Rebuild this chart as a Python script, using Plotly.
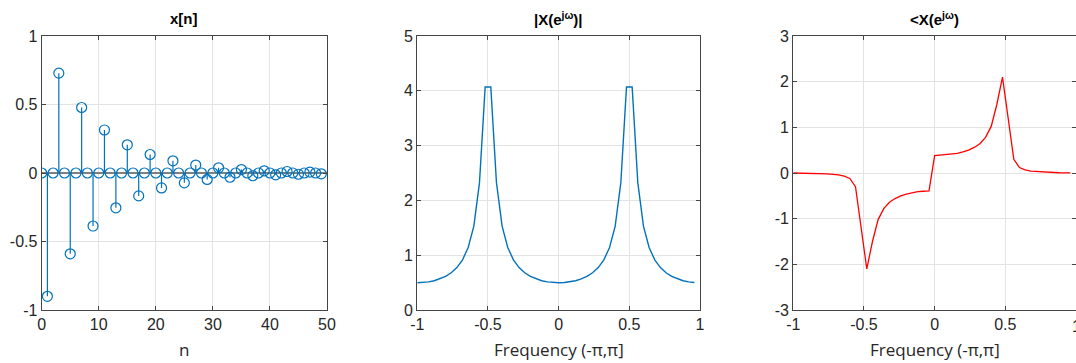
import plotly.graph_objects as go

# ---------------- data ----------------
n_idx = list(range(50))
x_vals = [0, -0.9, 0, 0.729, 0, -0.590, 0, 0.478, 0, -0.387,
          0, 0.314, 0, -0.254, 0, 0.206, 0, -0.167, 0, 0.135,
          0, -0.109, 0, 0.089, 0, -0.072, 0, 0.058, 0, -0.047,
          0, 0.038, 0, -0.031, 0, 0.025, 0, -0.020, 0, 0.016,
          0, -0.013, 0, 0.011, 0, -0.009, 0, 0.007, 0, -0.006]

freq = [-1.00, -0.96, -0.92, -0.88, -0.84, -0.80, -0.76, -0.72, -0.68, -0.64,
        -0.60, -0.56, -0.52, -0.48, -0.44, -0.40, -0.36, -0.32, -0.28, -0.24,
        -0.20, -0.16, -0.12, -0.08, -0.04, 0.00, 0.04, 0.08, 0.12, 0.16,
        0.20, 0.24, 0.28, 0.32, 0.36, 0.40, 0.44, 0.48, 0.52, 0.56,
        0.60, 0.64, 0.68, 0.72, 0.76, 0.80, 0.84, 0.88, 0.92, 0.96]

mag = [0.497, 0.501, 0.513, 0.534, 0.567, 0.613, 0.679, 0.774, 0.916, 1.140,
       1.531, 2.324, 4.070, 4.070, 2.324, 1.531, 1.140, 0.916, 0.774, 0.679,
       0.613, 0.567, 0.534, 0.513, 0.501, 0.497, 0.501, 0.513, 0.534, 0.567,
       0.613, 0.679, 0.774, 0.916, 1.140, 1.531, 2.324, 4.070, 4.070, 2.324,
       1.531, 1.140, 0.916, 0.774, 0.679, 0.613, 0.567, 0.534, 0.513, 0.501]

phase = [0.0, -0.001, -0.003, -0.005, -0.01, -0.01, -0.02, -0.03, -0.04, -0.07,
         -0.12, -0.30, -1.20, -2.10, -1.50, -1.02, -0.78, -0.64, -0.56, -0.50,
         -0.46, -0.43, -0.41, -0.40, -0.39, 0.38, 0.39, 0.40, 0.41, 0.43,
         0.46, 0.50, 0.56, 0.64, 0.78, 1.02, 1.50, 2.10, 1.20, 0.30,
         0.12, 0.07, 0.04, 0.03, 0.02, 0.01, 0.01, 0.005, 0.003, 0.001]

titles = ["<b>x[n]</b>", "<b>|X(e<sup>jω</sup>)|</b>", "<b>&lt;X(e<sup>jω</sup>)</b>"]
xlabels = ["n", "Frequency (-π,π]", "Frequency (-π,π]"]

# ---------------- figure ----------------
W, H = 1076, 363
BLUE = "#0072BD"
RED = "#FF0000"
AXC = "#454545"
TXT = "#262626"
GRID = "#E3E3E3"
TICKFONT = dict(family="Liberation Sans, Arial, sans-serif", size=16, color=TXT)

fig = go.Figure()

# stems
sx, sy = [], []
for n, v in zip(n_idx, x_vals):
    sx += [n, n, None]
    sy += [0, v, None]
fig.add_trace(go.Scatter(x=sx, y=sy, mode="lines", line=dict(color=BLUE, width=1.2),
                         xaxis="x", yaxis="y", showlegend=False, hoverinfo="skip"))
fig.add_trace(go.Scatter(x=n_idx, y=x_vals, mode="markers",
                         marker=dict(symbol="circle-open", size=10, color=BLUE, line=dict(width=1.2)),
                         xaxis="x", yaxis="y", showlegend=False))

fig.add_trace(go.Scatter(x=freq, y=mag, mode="lines", line=dict(color=BLUE, width=1.4),
                         xaxis="x2", yaxis="y2", showlegend=False))
fig.add_trace(go.Scatter(x=freq, y=phase, mode="lines", line=dict(color=RED, width=1.3),
                         xaxis="x3", yaxis="y3", showlegend=False))

px = lambda p: p / W
py = lambda p: 1 - p / H

xdoms = [[px(41.7), px(327)], [px(417.3), px(700)], [px(793.3), 1.0]]
ydom = [py(310), py(36)]

def axstyle(rng, vals, txt, dom, anchor):
    return dict(domain=dom, range=rng, tickvals=vals, ticktext=txt, anchor=anchor,
                automargin=False,
                showgrid=True, gridcolor=GRID, gridwidth=1, zeroline=False,
                showline=True, linecolor=AXC, linewidth=1.2, mirror="ticks",
                ticks="inside", ticklen=4, tickcolor=AXC, tickwidth=1,
                tickfont=TICKFONT, fixedrange=True)

xt_n = [0, 10, 20, 30, 40, 50]
xt_f = [-1, -0.5, 0, 0.5, 1]
xt_f_txt = ["-1", "-0.5", "0", "0.5", "1"]

fig.update_layout(
    width=W, height=H,
    margin=dict(l=0, r=0, t=0, b=0),
    paper_bgcolor="white", plot_bgcolor="white",
    xaxis=axstyle([0, 50], xt_n, [str(v) for v in xt_n], xdoms[0], "y"),
    yaxis=axstyle([-1, 1], [-1, -0.5, 0, 0.5, 1], ["-1", "-0.5", "0", "0.5", "1"], ydom, "x"),
    xaxis2=axstyle([-1, 1], xt_f, xt_f_txt, xdoms[1], "y2"),
    yaxis2=axstyle([0, 5], [0, 1, 2, 3, 4, 5], ["0", "1", "2", "3", "4", "5"], ydom, "x2"),
    xaxis3=axstyle([-1, 1], xt_f, xt_f_txt, xdoms[2], "y3"),
    yaxis3=axstyle([-3, 3], [-3, -2, -1, 0, 1, 2, 3], ["-3", "-2", "-1", "0", "1", "2", "3"], ydom, "x3"),
)
fig.update_layout(yaxis=dict(zeroline=True, zerolinecolor="#7F7F7F", zerolinewidth=2))

annos = []
for i in range(3):
    cx = (xdoms[i][0] + xdoms[i][1]) / 2
    annos.append(dict(text=titles[i], x=cx, y=py(18), xref="paper", yref="paper",
                      xanchor="center", yanchor="middle", showarrow=False,
                      font=dict(family="Liberation Sans, Arial, sans-serif", size=15, color="black")))
    annos.append(dict(text=xlabels[i], x=cx, y=py(349), xref="paper", yref="paper",
                      xanchor="center", yanchor="middle", showarrow=False,
                      font=dict(family="Open Sans, Noto Sans, sans-serif", size=17, color=TXT)))
# the last tick label of the phase axis sits on the page edge (partly cut, as in the reference)
annos.append(dict(text="1", x=1.0, y=py(326), xref="paper", yref="paper",
                  xanchor="center", yanchor="middle", showarrow=False, font=TICKFONT))
fig.update_layout(annotations=annos)

fig.write_html("out.html", config={"displayModeBar": False},
               post_script="document.body.style.margin='0px';document.body.style.overflow='hidden';")
